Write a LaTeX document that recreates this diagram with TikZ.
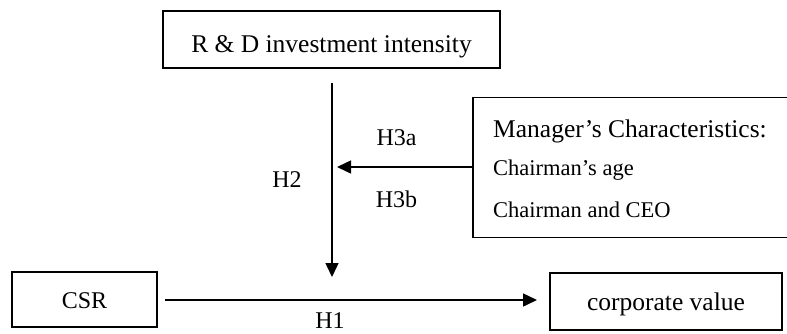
\documentclass[tikz,border=0pt]{standalone}
\usepackage{fontspec}
\setmainfont{Liberation Serif}
\usetikzlibrary{arrows.meta}
\begin{document}
\begin{tikzpicture}[x=1pt,y=-1pt,
  box/.style={draw=black, line width=1.3pt, inner sep=0pt, rectangle},
  lbl/.style={inner sep=0pt, font=\fontsize{24}{28}\selectfont},
  big/.style={inner sep=0pt, font=\fontsize{25.5}{30}\selectfont},
  small/.style={inner sep=0pt, font=\fontsize{22.5}{27}\selectfont},
  arr/.style={line width=1.5pt, -{Triangle[length=14pt,width=13pt]}}]
\useasboundingbox (0,0) rectangle (787,333);
% boxes
\node[box, minimum width=337pt, minimum height=57pt] (rd) at (331.5,39.5) {};
\node[big, anchor=base] (rdt) at (331.5,52) {R \& D investment intensity};
\node[box, minimum width=318pt, minimum height=140pt] (mgr) at (632,167.5) {};
\node[big, anchor=base west] (m1) at (493,137) {Manager’s Characteristics:};
\node[small, anchor=base west] (m2) at (493,175) {Chairman’s age};
\node[small, anchor=base west] (m3) at (493,217) {Chairman and CEO};
\node[box, minimum width=145pt, minimum height=55pt] (csr) at (84.5,299.5) {};
\node[lbl, anchor=base] (csrt) at (84.5,308) {CSR};
\node[box, minimum width=232pt, minimum height=57pt] (cv) at (666,301.5) {};
\node[big, anchor=base] (cvt) at (666,310) {corporate value};
% connector ends
\coordinate (v1) at (332,83);
\coordinate (v2) at (332,277);
\coordinate (hm) at (337,167);
\coordinate (h1a) at (165,300);
\coordinate (h1b) at (537,300);
\draw[arr] (v1) -- (v2);
\draw[arr] (mgr.west |- hm) -- (hm);
\draw[arr] (h1a) -- (h1b);
% labels
\node[lbl, anchor=base] (l3a) at (396.5,145) {H3a};
\node[lbl, anchor=base] (l3b) at (396.5,207) {H3b};
\node[lbl, anchor=base] (l2) at (287,187) {H2};
\node[lbl, anchor=base] (l1) at (330,328) {H1};
\end{tikzpicture}
\end{document}
